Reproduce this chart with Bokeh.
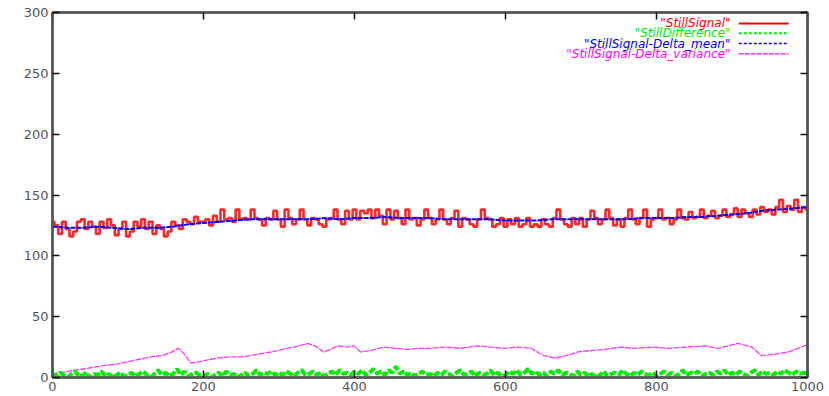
from bokeh.plotting import figure
from bokeh.models import Range1d, LinearAxis, FixedTicker
from bokeh.core.properties import value
from bokeh.embed import file_html
from bokeh.resources import INLINE

# ---- data ----
sig_x = list(range(0, 1001, 5))
sig_y = [
    128,125,118,128,122,116,120,128,130,122,128,124,118,128,123,130,125,117,122,128,
    116,120,128,124,130,122,128,118,125,122,116,120,128,125,122,130,128,126,132,128,
    128,130,125,133,128,138,130,131,128,138,130,131,130,138,131,130,125,131,130,137,
    130,124,138,131,126,130,138,130,125,131,130,126,124,130,131,138,130,126,137,130,
    138,130,137,135,138,131,138,133,126,138,130,137,131,126,138,130,131,125,130,138,
    131,126,130,138,130,126,131,137,124,131,130,126,124,130,138,131,130,124,126,131,
    124,130,126,131,124,126,131,124,126,124,130,126,124,131,138,130,126,124,131,126,
    131,124,130,137,131,126,130,138,131,125,130,124,131,138,130,126,131,138,124,130,
    131,138,130,131,126,130,138,131,130,136,131,132,138,131,133,137,131,133,138,132,
    134,139,132,138,135,132,138,134,140,136,138,134,140,146,136,141,138,146,136,140,
    138,
]
diff_y = [
    3,1,4,2,0,3,5,1,2,4,0,3,2,5,1,3,0,2,4,1,
    2,4,1,3,5,2,0,3,6,2,4,1,3,7,2,5,1,3,4,2,
    1,3,0,2,4,1,5,2,3,0,2,4,1,3,6,2,4,3,5,2,
    4,2,5,3,1,4,6,2,3,5,2,4,1,3,5,2,6,3,4,2,
    5,3,6,2,4,7,3,5,2,6,4,9,3,5,2,4,1,3,5,2,
    3,1,4,2,5,3,1,4,6,2,3,5,1,4,2,3,6,2,4,1,
    2,5,3,6,2,4,7,3,5,2,4,1,5,3,6,2,4,3,1,5,
    2,4,1,3,0,2,5,1,3,4,2,6,3,1,4,2,5,3,2,4,
    1,3,5,2,4,1,3,6,2,4,3,5,1,3,4,2,5,3,6,2,
    4,2,5,3,1,4,6,2,5,3,4,2,5,3,6,4,2,5,3,4,
    3,
]
mean_x = list(range(0, 1001, 20))
mean_y = [124,123,123,124,123,122,123,123,124,126,
          127,128,129,130,130,130,130,130,131,130,
          131,131,132,131,131,131,130,130,130,130,
          129,129,129,130,130,130,130,130,130,131,
          131,131,132,132,133,134,135,137,138,139,
          140]
var_x = [0,10,20,30,41,50,60,70,86,100,115,130,145,155,167,175,183,195,210,218,
         235,250,262,280,298,310,320,338,348,359,368,378,390,399,408,420,439,455,470,484,
         500,520,540,563,580,598,615,634,642,651,665,680,696,710,730,753,770,797,815,840,
         863,882,895,908,926,939,955,975,996,1000]
var_y = [3,4,5,6,7,8,9,10,11,13,15,17,18,20,24,19,12,13,15,16,
         17,17,18,20,22,24,25,28,26,21,23,26,25,26,21,22,25,24,23,24,
         24,25,24,26,25,24,25,24,21,18,16,18,21,22,23,25,24,25,24,25,
         26,24,26,28,25,18,19,21,26,27]

series_names = ['"StillSignal"', '"StillDifference"', '"StillSignal-Delta_mean"', '"StillSignal-Delta_variance"']
series_colors = ["#ff0000", "#00ee00", "#0000ff", "#ff00ff"]
x_ticks = [0, 200, 400, 600, 800, 1000]
y_ticks = [0, 50, 100, 150, 200, 250, 300]

assert len(sig_x) == len(sig_y) == len(diff_y)
assert len(mean_x) == len(mean_y)
assert len(var_x) == len(var_y)

p = figure(width=829, height=396, output_backend="svg", toolbar_location=None,
           x_range=Range1d(0, 1000), y_range=Range1d(0, 300),
           min_border_left=52, min_border_right=22, min_border_top=12, min_border_bottom=19,
           x_axis_location=None, y_axis_location=None)
p.grid.visible = False
p.outline_line_color = "#444444"
p.outline_line_width = 2
p.background_fill_color = "white"
p.border_fill_color = "white"

FONT = "DejaVu Sans"

def make_axis(show_labels):
    ax = LinearAxis()
    ax.axis_line_color = "#555555"
    ax.axis_line_width = 2.5
    ax.major_tick_in = 7
    ax.major_tick_out = 0
    ax.major_tick_line_color = "#111111"
    ax.major_tick_line_width = 1.5
    ax.minor_tick_line_color = None
    if show_labels:
        ax.major_label_text_font = FONT
        ax.major_label_text_font_size = "13px"
        ax.major_label_text_color = "#555555"
        ax.major_label_standoff = 4
    else:
        ax.major_label_text_font_size = "1px"
        ax.major_label_text_color = None
        ax.major_label_standoff = 0
    return ax

bx = make_axis(True); bx.ticker = FixedTicker(ticks=x_ticks)
lx = make_axis(True); lx.ticker = FixedTicker(ticks=y_ticks)
tx = make_axis(False); tx.ticker = FixedTicker(ticks=x_ticks)
rx = make_axis(False); rx.ticker = FixedTicker(ticks=y_ticks)
p.add_layout(bx, "below")
p.add_layout(lx, "left")
p.add_layout(tx, "above")
p.add_layout(rx, "right")

# series
p.line(var_x, var_y, line_color=series_colors[3], line_width=1.3, line_dash="6 1", line_alpha=0.8)
p.line(sig_x, diff_y, line_color=series_colors[1], line_width=4, line_dash="7 2")
p.step(sig_x, sig_y, mode="center", line_color=series_colors[0], line_width=2.6, line_alpha=0.85)
p.line(mean_x, mean_y, line_color=series_colors[2], line_width=2, line_dash="5 1")

# gnuplot-style key (top right): text right-aligned, sample line to its right
key_text_x = 898
key_x0, key_x1 = 909, 975
key_rows = [291, 283, 274.5, 266]
dashes = ["solid", "3 2", "3 2", "5 1"]
widths = [2, 2, 1.5, 1.2]
for name, col, yy, d, w in zip(series_names, series_colors, key_rows, dashes, widths):
    p.text(x=[key_text_x], y=[yy], text=[name], text_align="right", text_baseline="middle",
           text_color=col, text_font=value(FONT), text_font_size="12px", text_font_style="italic")
    p.line([key_x0, key_x1], [yy, yy], line_color=col, line_width=w, line_dash=d)

open("out.html", "w").write(file_html(p, INLINE))
